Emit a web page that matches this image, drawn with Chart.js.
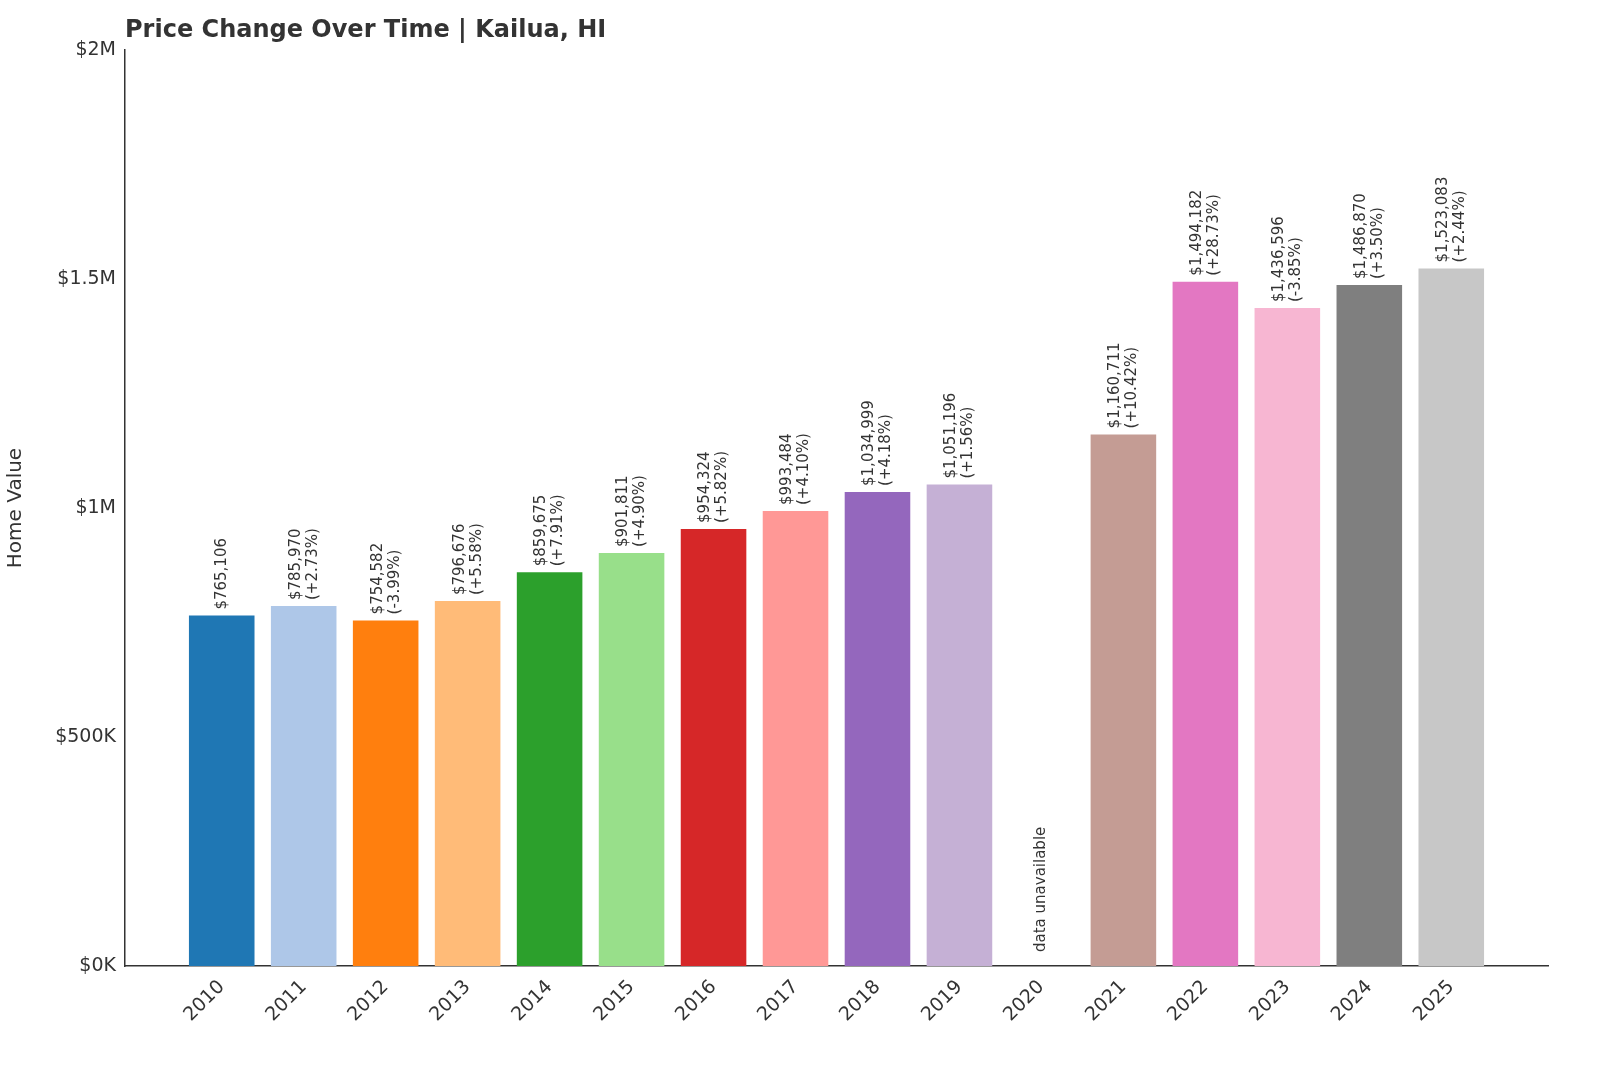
<!DOCTYPE html>
<html><head><meta charset="utf-8">
<script src="https://cdn.jsdelivr.net/npm/chart.js@4"></script>
<style>html,body{margin:0;padding:0;background:#fff;overflow:hidden}canvas{display:block}</style>
</head><body><canvas id="c" width="1600" height="1067" style="width:1600px;height:1067px"></canvas>
<script>
const years = ['2010','2011','2012','2013','2014','2015','2016','2017','2018','2019','2020','2021','2022','2023','2024','2025'];
const values = [765106,785970,754582,796676,859675,901811,954324,993484,1034999,1051196,null,1160711,1494182,1436596,1486870,1523083];
const colors = ['#1f77b4','#aec7e8','#ff7f0e','#ffbb78','#2ca02c','#98df8a','#d62728','#ff9896','#9467bd','#c5b0d5','#8c564b','#c49c94','#e377c2','#f7b6d2','#7f7f7f','#c7c7c7'];
const yTicks = [0,500000,1000000,1500000,2000000];
const yTickLabels = ['$0K','$500K','$1M','$1.5M','$2M'];
const FONT = 'DejaVu Sans';

const labelPlugin = {
  id:'lbl',
  afterDatasetsDraw(chart){
    const ctx = chart.ctx, x = chart.scales.x, y = chart.scales.y;
    ctx.save();
    ctx.fillStyle = '#333';
    ctx.font = '15px "'+FONT+'"';
    ctx.textAlign = 'left'; ctx.textBaseline = 'middle';
    let prev = null;
    values.forEach((v,i)=>{
      const cx = x.getPixelForValue(i);
      ctx.save();
      if (v === null) {
        ctx.translate(cx, y.getPixelForValue(0) - 14);
        ctx.rotate(-Math.PI/2);
        ctx.fillText('data unavailable', 0, 0);
        ctx.restore();
        return;
      }
      const top = y.getPixelForValue(v) - 6;
      ctx.translate(cx, top);
      ctx.rotate(-Math.PI/2);
      const s = '$' + v.toLocaleString('en-US');
      if (prev === null) {
        ctx.fillText(s, 0, 0);
      } else {
        const p = (v/prev - 1)*100;
        ctx.fillText(s, 0, -8);
        ctx.fillText('(' + (p>=0?'+':'') + p.toFixed(2) + '%)', 0, 9);
      }
      ctx.restore();
      prev = v;
    });
    ctx.font = 'bold 24px "'+FONT+'"';
    ctx.fillStyle = '#333';
    ctx.textBaseline = 'middle';
    ctx.fillText('Price Change Over Time | Kailua, HI', 125, 31);
    ctx.restore();
  }
};

new Chart(document.getElementById('c'), {
  type:'bar',
  data:{datasets:[{data:values.map((v,i)=>({x:i,y:v})), backgroundColor:colors, barPercentage:0.8, categoryPercentage:1}]},
  options:{
    responsive:false, animation:false, devicePixelRatio:1,
    layout:{padding:{top:50,right:52,left:0,bottom:0}},
    plugins:{legend:{display:false},tooltip:{enabled:false}},
    scales:{
      x:{
        type:'linear', min:-1.18, max:16.18, offset:false,
        afterBuildTicks(s){ s.ticks = years.map((_,i)=>({value:i})); },
        grid:{display:false, drawTicks:true, tickLength:6, color:'#333'},
        border:{color:'#333', width:1.5},
        ticks:{color:'#333', font:{family:FONT,size:19}, maxRotation:45, minRotation:45, padding:4, autoSkip:false, callback:(v)=>years[v]},
        afterFit(s){ s.height = 101; }
      },
      y:{
        min:0, max:2000000,
        afterBuildTicks(s){ s.ticks = yTicks.map(v=>({value:v})); },
        grid:{display:false, drawTicks:true, tickLength:6, color:'#333'},
        border:{color:'#333', width:1.5},
        ticks:{color:'#333', font:{family:FONT,size:19}, callback:(v)=>yTickLabels[yTicks.indexOf(v)]},
        title:{display:true, text:'Home Value', color:'#333', font:{family:FONT,size:20}, padding:{bottom:8}},
        afterFit(s){ s.width = 125; }
      }
    }
  },
  plugins:[labelPlugin]
});
</script></body></html>
